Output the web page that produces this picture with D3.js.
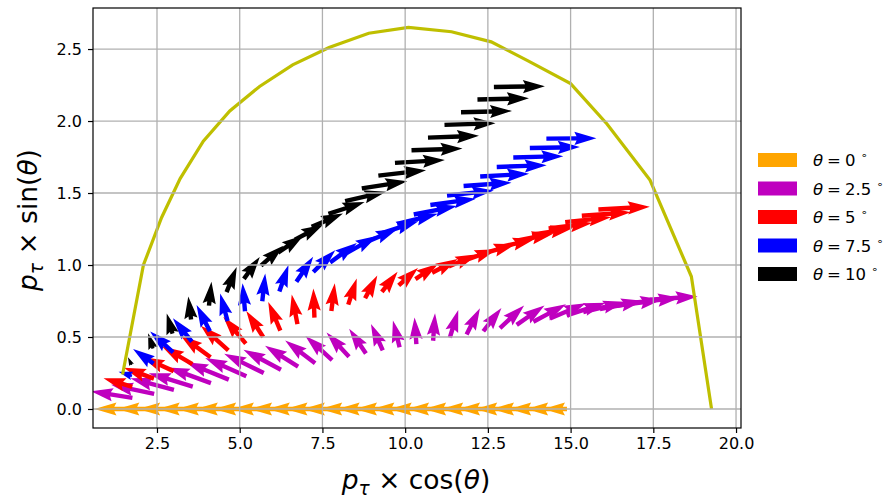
<!DOCTYPE html>
<html>
<head>
<meta charset="utf-8">
<script src="https://cdn.jsdelivr.net/npm/d3@7"></script>
<style>
  body { margin: 0; background: #fff; }
  svg { font-family: "DejaVu Sans", sans-serif; }
</style>
</head>
<body>
<svg id="chart" width="890" height="498"></svg>
<script>
// arrows: [tail x, tail y, dx, dy] in data units
const arrows0 = [
  [1.76,0,-1.149,0],[2.42,0,-1.118,0],[3.02,0,-1.088,0],[3.58,0,-1.058,0],[4.13,0,-1.028,0],
  [4.67,0,-0.997,0],[5.21,0,-0.982,0],[5.73,0,-0.967,0],[6.25,0,-0.937,0],[6.77,0,-0.922,0],
  [7.29,0,-0.907,0],[7.80,0,-0.892,0],[8.31,0,-0.877,0],[8.82,0,-0.861,0],[9.33,0,-0.846,0],
  [9.84,0,-0.831,0],[10.35,0,-0.816,0],[10.86,0,-0.801,0],[11.36,0,-0.786,0],[11.87,0,-0.780,0],
  [12.37,0,-0.771,0],[12.88,0,-0.762,0],[13.38,0,-0.756,0],[13.89,0,-0.747,0],[14.39,0,-0.734,0],
  [14.89,0,-0.725,0]
]
const arrows25 = [
  [1.757,0.077,-1.254,0.046],[2.415,0.105,-1.301,0.064],[3.012,0.132,-1.314,0.081],
  [3.581,0.156,-1.330,0.093],[4.130,0.180,-1.307,0.109],[4.670,0.204,-1.289,0.120],
  [5.200,0.227,-1.243,0.127],[5.726,0.250,-1.195,0.134],[6.246,0.273,-1.134,0.139],
  [6.765,0.295,-1.000,0.144],[7.279,0.318,-0.905,0.157],[7.793,0.340,-0.809,0.167],
  [8.304,0.363,-0.680,0.168],[8.815,0.385,-0.507,0.173],[9.323,0.407,-0.356,0.184],
  [9.832,0.429,-0.201,0.185],[10.339,0.451,-0.056,0.185],[10.845,0.474,0.058,0.191],
  [11.351,0.496,0.254,0.191],[11.857,0.518,0.403,0.182],[12.361,0.540,0.549,0.162],
  [12.866,0.562,0.730,0.156],[13.370,0.584,0.842,0.135],[13.874,0.606,0.987,0.121],
  [14.377,0.628,1.085,0.106],[14.880,0.650,1.179,0.088],[15.383,0.672,1.261,0.072],
  [15.886,0.694,1.305,0.058],[16.388,0.716,1.377,0.044],[16.891,0.738,1.413,0.034],
  [17.393,0.759,1.447,0.023]
]
const arrows5 = [
  [1.752,0.153,-0.867,0.061],[2.408,0.211,-0.909,0.076],[3.004,0.263,-0.939,0.096],
  [3.570,0.312,-0.916,0.122],[4.118,0.360,-0.905,0.151],[4.656,0.407,-0.831,0.172],
  [5.185,0.454,-0.680,0.186],[5.709,0.500,-0.510,0.181],[6.228,0.545,-0.366,0.198],
  [6.745,0.590,-0.173,0.205],[7.258,0.635,-0.031,0.201],[7.770,0.680,0.103,0.193],
  [8.280,0.725,0.257,0.182],[8.789,0.769,0.369,0.159],[9.296,0.813,0.475,0.140],
  [9.804,0.858,0.584,0.121],[10.310,0.902,0.689,0.107],[10.814,0.946,0.774,0.095],
  [11.319,0.990,0.863,0.084],[11.823,1.034,0.943,0.075],[12.326,1.078,1.017,0.067],
  [12.829,1.122,1.090,0.058],[13.332,1.167,1.157,0.052],[13.834,1.210,1.224,0.045],
  [14.336,1.254,1.320,0.037],[14.837,1.298,1.383,0.033],[15.339,1.342,1.477,0.024],
  [15.840,1.386,1.554,0.019]
]
const arrows75 = [
  [1.744,0.230,-0.405,0.028],[2.396,0.316,-0.619,0.100],[2.989,0.394,-0.696,0.144],
  [3.553,0.468,-0.571,0.162],[4.099,0.540,-0.403,0.182],[4.634,0.610,-0.225,0.193],
  [5.160,0.679,-0.074,0.194],[5.682,0.748,0.089,0.193],[6.198,0.816,0.276,0.184],
  [6.713,0.884,0.507,0.173],[7.224,0.951,0.663,0.152],[7.733,1.018,0.807,0.135],
  [8.241,1.085,0.925,0.118],[8.747,1.152,1.029,0.100],[9.252,1.218,1.150,0.086],
  [9.757,1.285,1.232,0.071],[10.260,1.351,1.305,0.058],[10.762,1.417,1.377,0.044],
  [11.265,1.483,1.413,0.034],[11.766,1.549,1.447,0.023],[12.267,1.615,1.479,0.018],
  [12.768,1.681,1.510,0.012],[13.268,1.747,1.511,0.009],[13.768,1.813,1.511,0.006],
  [14.268,1.878,1.511,0.003]
]
const arrows10 = [
  [1.732,0.306,-0.109,0.054],[2.380,0.420,-0.149,0.106],[2.969,0.524,-0.175,0.140],
  [3.530,0.622,-0.085,0.159],[4.071,0.718,0.076,0.166],[4.603,0.812,0.306,0.174],
  [5.126,0.904,0.480,0.152],[5.644,0.995,0.674,0.139],[6.157,1.086,0.777,0.120],
  [6.668,1.176,0.854,0.104],[7.175,1.265,0.946,0.092],[7.682,1.355,1.092,0.082],
  [8.186,1.443,1.237,0.066],[8.689,1.532,1.373,0.050],[9.190,1.621,1.441,0.038],
  [9.692,1.709,1.508,0.021],[10.192,1.797,1.541,0.012],[10.690,1.885,1.541,0.012],
  [11.189,1.973,1.541,0.012],[11.688,2.061,1.541,0.009],[12.185,2.149,1.556,0.009],
  [12.682,2.236,1.541,0.006]
]

// kinematic boundary
const curveX = [1.46, 2.09, 2.64, 3.2, 3.9, 4.7, 5.6, 6.6, 7.7, 8.9, 10.1, 11.4, 12.6, 13.7, 15.0, 16.1, 17.4, 18.65, 19.26]
const curveY = [0.24, 1.00, 1.33, 1.60, 1.86, 2.07, 2.24, 2.39, 2.51, 2.61, 2.65, 2.62, 2.55, 2.42, 2.26, 1.98, 1.59, 0.92, 0.00]

const thetaLabels = ['0', '2.5', '5', '7.5', '10']
const xTicks = [2.5, 5.0, 7.5, 10.0, 12.5, 15.0, 17.5, 20.0]
const yTicks = [0.0, 0.5, 1.0, 1.5, 2.0, 2.5]

const series = [arrows0, arrows25, arrows5, arrows75, arrows10]
const colors = ['#ffa500', '#bf00bf', '#ff0000', '#0000ff', '#000000']

let margin = {left: 93, right: 149, top: 8, bottom: 70}
let width = 890, height = 498

const x = d3.scaleLinear().domain([0.566, 20.15]).range([margin.left, width - margin.right])
const y = d3.scaleLinear().domain([-0.132, 2.785]).range([height - margin.bottom, margin.top])

const svg = d3.select('#chart')

svg.append('defs').append('clipPath').attr('id', 'clip')
    .append('rect')
    .attr('x', x.range()[0]).attr('y', y.range()[1])
    .attr('width', x.range()[1] - x.range()[0])
    .attr('height', y.range()[0] - y.range()[1])

// matplotlib style arrow polygon, tail at origin pointing +x
let shaftW = 4.4
function arrowPath(L, w) {
    let hl = 5 * w, ha = 4.5 * w, hw = 1.5 * w
    let s = 1, Lp = L
    if (L < hl) { s = L / hl; Lp = hl }
    let pts = [[0, -w/2], [Lp - ha, -w/2], [Lp - hl, -hw], [Lp, 0], [Lp - hl, hw], [Lp - ha, w/2], [0, w/2]]
    return 'M' + pts.map(p => `${p[0]*s},${p[1]*s}`).join('L') + 'Z'
}

const plot = svg.append('g').attr('clip-path', 'url(#clip)')

series.forEach((data, i) => {
    plot.append('g')
        .selectAll('path')
        .data(data)
        .join('path')
        .attr('fill', colors[i])
        .attr('d', d => {
            let tx = x(d[0]), ty = y(d[1])
            let hx = x(d[0] + d[2]), hy = y(d[1] + d[3])
            return arrowPath(Math.hypot(hx - tx, hy - ty), shaftW)
        })
        .attr('transform', d => {
            let tx = x(d[0]), ty = y(d[1])
            let hx = x(d[0] + d[2]), hy = y(d[1] + d[3])
            let ang = Math.atan2(hy - ty, hx - tx) * 180 / Math.PI
            return `translate(${tx},${ty}) rotate(${ang})`
        })
})

// grid (drawn over the arrows like matplotlib's default)
const grid = svg.append('g').attr('stroke', '#b0b0b0').attr('stroke-width', 1.3)
grid.selectAll('.gx').data(xTicks).join('line')
    .attr('x1', d => x(d)).attr('x2', d => x(d))
    .attr('y1', y.range()[0]).attr('y2', y.range()[1])
grid.selectAll('.gy').data(yTicks).join('line')
    .attr('y1', d => y(d)).attr('y2', d => y(d))
    .attr('x1', x.range()[0]).attr('x2', x.range()[1])

// boundary curve
plot.append('path')
    .datum(d3.zip(curveX, curveY))
    .attr('d', d3.line().x(d => x(d[0])).y(d => y(d[1])))
    .attr('fill', 'none')
    .attr('stroke', '#bfbf00')
    .attr('stroke-width', 3.2)

// frame
svg.append('rect')
    .attr('x', x.range()[0]).attr('y', y.range()[1])
    .attr('width', x.range()[1] - x.range()[0])
    .attr('height', y.range()[0] - y.range()[1])
    .attr('fill', 'none').attr('stroke', '#000').attr('stroke-width', 1.2)

const xAxis = svg.append('g')
    .attr('transform', `translate(0,${y.range()[0]})`)
    .call(d3.axisBottom(x).tickValues(xTicks).tickFormat(d3.format('.1f')).tickSize(5).tickPadding(5))
const yAxis = svg.append('g')
    .attr('transform', `translate(${x.range()[0]},0)`)
    .call(d3.axisLeft(y).tickValues(yTicks).tickFormat(d3.format('.1f')).tickSize(5).tickPadding(6))
;[xAxis, yAxis].forEach(a => {
    a.select('.domain').remove()
    a.selectAll('text').attr('font-size', 16).attr('fill', '#000').attr('font-family', 'DejaVu Sans')
    a.selectAll('line').attr('stroke', '#000').attr('stroke-width', 1.2)
})

// axis labels
function mathLabel(sel, fn) {
    sel.append('tspan').attr('font-style', 'italic').text('p')
    sel.append('tspan').attr('font-style', 'italic').attr('font-size', '0.7em').attr('dy', 6).text('τ')
    sel.append('tspan').attr('dy', -6).text(' × ' + fn + '(')
    sel.append('tspan').attr('font-style', 'italic').text('θ')
    sel.append('tspan').text(')')
}
svg.append('text')
    .attr('x', 416).attr('y', 489)
    .attr('text-anchor', 'middle').attr('font-size', 26.5)
    .call(mathLabel, 'cos')
svg.append('text')
    .attr('transform', 'translate(37,220) rotate(-90)')
    .attr('text-anchor', 'middle').attr('font-size', 26.5)
    .call(mathLabel, 'sin')

// legend
const legend = svg.append('g').attr('transform', 'translate(758,153)')
thetaLabels.forEach((t, i) => {
    let g = legend.append('g').attr('transform', `translate(0,${i * 28.5})`)
    g.append('rect').attr('width', 39).attr('height', 14).attr('fill', colors[i])
    let tx = g.append('text').attr('x', 55).attr('y', 13).attr('font-size', 16.5)
    tx.append('tspan').attr('font-style', 'italic').text('θ')
    tx.append('tspan').attr('dx', 4).text('=')
    tx.append('tspan').attr('dx', 4).text(t)
    tx.append('tspan').attr('font-size', 11).attr('dx', 5).attr('dy', -7).text('∘')
})
</script>
</body>
</html>
